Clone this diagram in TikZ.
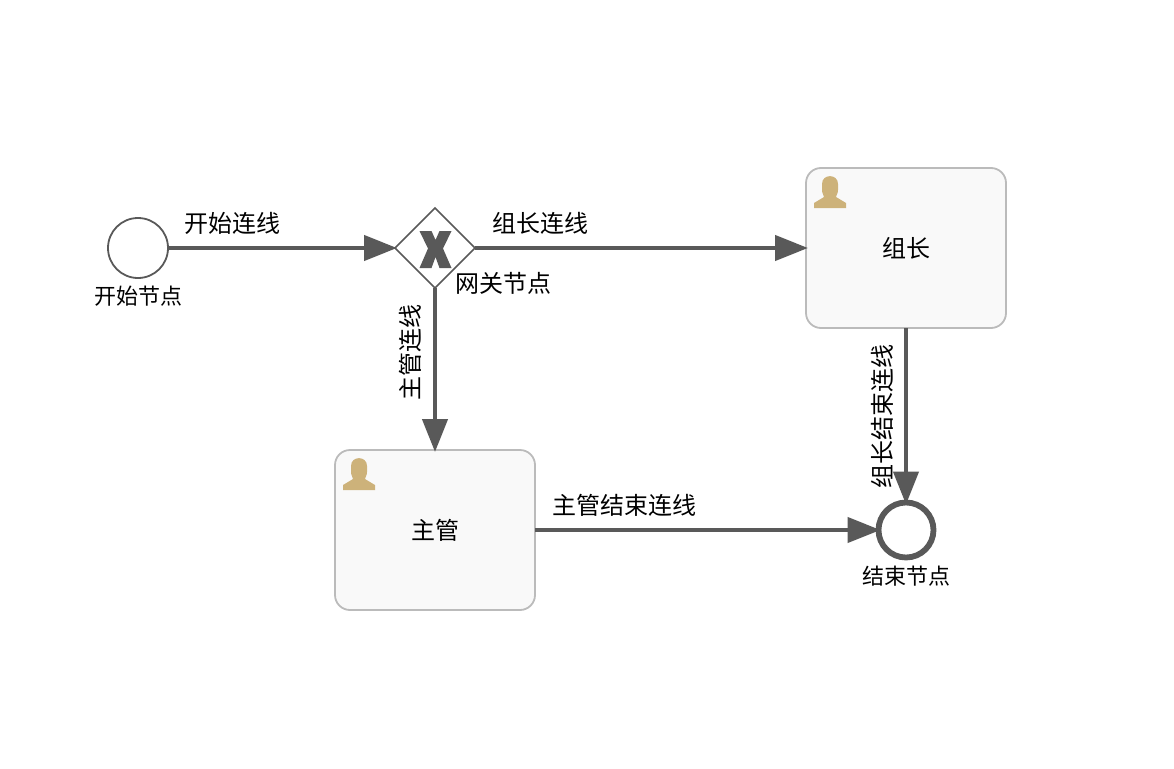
\documentclass[tikz,border=0pt]{standalone}
\usepackage{fontspec}
\setmainfont{Noto Sans CJK SC}
\usetikzlibrary{shapes.geometric,arrows.meta}

\definecolor{flow_gray}{HTML}{595959}
\definecolor{task_border}{HTML}{BBBBBB}
\definecolor{task_fill}{HTML}{F9F9F9}
\definecolor{user_tan}{HTML}{CDB27A}

\begin{document}
\begin{tikzpicture}[
    x=1pt, y=-1pt,
    start_node/.style={circle, draw=flow_gray, fill=white, line width=1.8pt, minimum size=60pt, inner sep=0pt, outer sep=0pt},
    end_node/.style={circle, draw=flow_gray, fill=white, line width=5.8pt, minimum size=55pt, inner sep=0pt, outer sep=0pt},
    gateway_node/.style={diamond, aspect=1, draw=flow_gray, fill=white, line width=1.6pt, minimum size=80pt, inner sep=0pt, outer sep=0pt},
    task_node/.style={rectangle, rounded corners=15pt, draw=task_border, fill=task_fill, line width=1.8pt, minimum width=200pt, minimum height=160pt, inner sep=0pt, outer sep=0pt, font=\fontsize{24pt}{28pt}\selectfont},
    flow/.style={-{Triangle[length=33pt,width=25pt]}, draw=flow_gray, fill=flow_gray, line width=4.4pt, shorten >=-2pt},
    flow_label/.style={inner sep=0pt, font=\fontsize{24pt}{28pt}\selectfont},
    event_label/.style={inner sep=0pt, font=\fontsize{22pt}{26pt}\selectfont},
    pics/user_icon/.style={code={
        \fill[user_tan] (-8,-14) .. controls (-8,-24.5) and (8,-24.5) .. (8,-14)
            -- (8,-8) .. controls (8,-4) and (6,-3) .. (6,-1) -- (16,5) -- (16,10) -- (-16,10) -- (-16,5) -- (-6,-1)
            .. controls (-6,-3) and (-8,-4) .. (-8,-8) -- cycle;
    }}
]
    \useasboundingbox (0,0) rectangle (1174,768);

    \node[start_node] (start) at (138,248) {};
    \node[gateway_node] (gateway) at (435,248) {};
    \node[task_node] (leader) at (906,248) {组长};
    \node[task_node] (manager) at (435,530) {主管};
    \node[end_node] (finish) at (906,530) {};

    % gateway cross
    \fill[flow_gray] (419.5,231) -- (431.5,231) -- (435.5,240) -- (439.5,231) -- (451.5,231) -- (443,248.5)
        -- (451.5,268) -- (439.5,268) -- (435.5,257) -- (431.5,268) -- (419.5,268) -- (428,248.5) -- cycle;

    \pic at (830,198) {user_icon};
    \pic at (359,480) {user_icon};

    \draw [flow] (start) -- (gateway);
    \draw [flow] (gateway) -- (leader);
    \draw [flow] (gateway) -- (manager);
    \draw [flow] (leader) -- (finish);
    \draw [flow] (manager) -- (finish);

    \node[event_label] (start_text) at (138,296) {开始节点};
    \node[flow_label] (gateway_text) at (503,283) {网关节点};
    \node[event_label] (finish_text) at (906,576) {结束节点};
    \node[flow_label] (start_flow) at (232,223) {开始连线};
    \node[flow_label] (leader_flow) at (540,223) {组长连线};
    \node[flow_label, rotate=90] (manager_flow) at (410,352) {主管连线};
    \node[flow_label, rotate=90] (leader_end_flow) at (882,416) {组长结束连线};
    \node[flow_label] (manager_end_flow) at (624,505) {主管结束连线};
\end{tikzpicture}
\end{document}
